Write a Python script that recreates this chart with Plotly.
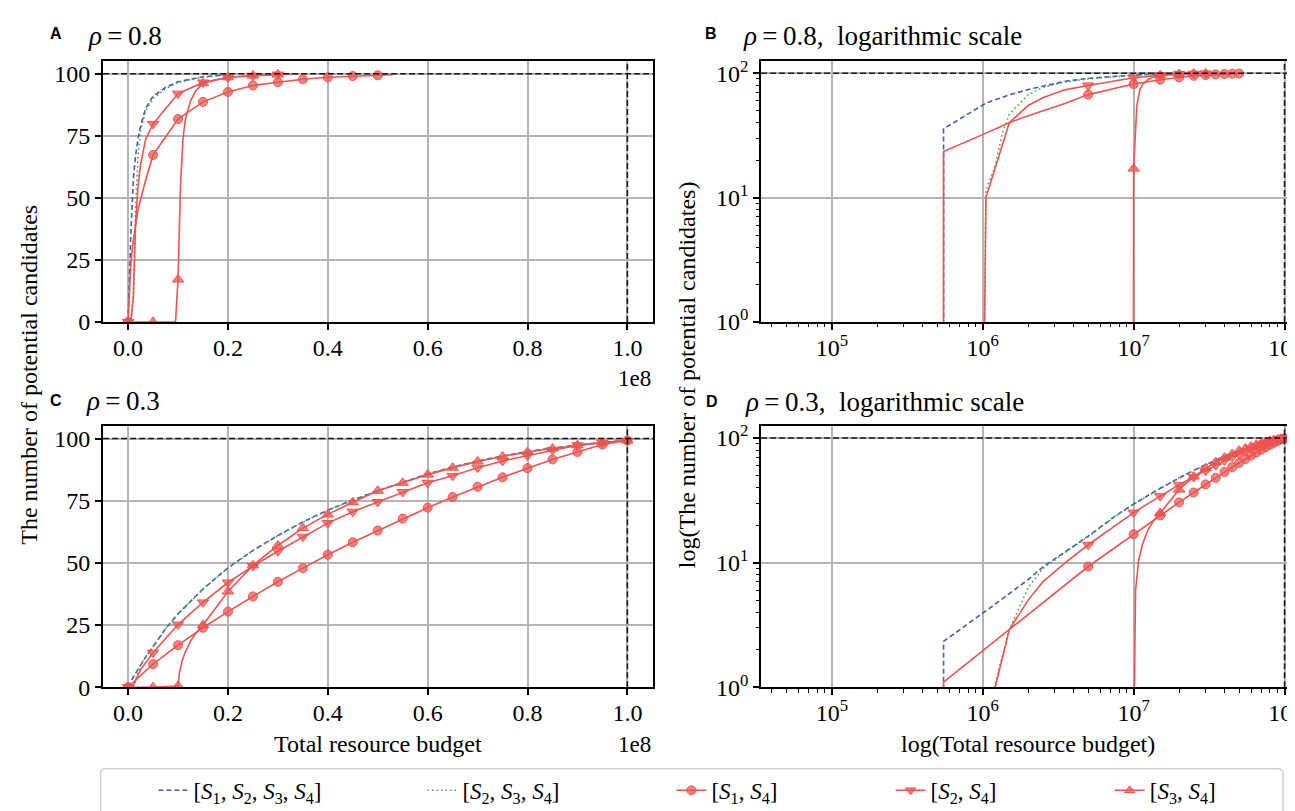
import numpy as np
import plotly.graph_objects as go

# ------------------------------------------------------------------ data
# budget values where the markers sit (every 5e6 up to 1e8)
BUDGET_GRID = [0, 5e6, 1e7, 1.5e7, 2e7, 2.5e7, 3e7, 3.5e7, 4e7, 4.5e7, 5e7,
               5.5e7, 6e7, 6.5e7, 7e7, 7.5e7, 8e7, 8.5e7, 9e7, 9.5e7, 1e8]

# ---- rho = 0.8
x08_all = [0, 5.5e5, 1.05e6, 1.5e6, 2e6, 2.5e6, 3.5e6, 5e6, 7.5e6, 1e7, 1.5e7, 2e7]
y08_all = [0, 35.7, 57.5, 67, 74, 79, 86, 91, 94.5, 96.8, 98.8, 99.6]

x08_s234 = [0, 5.5e5, 1.05e6, 1.2e6, 1.35e6, 1.5e6, 2e6, 2.5e6, 3.5e6, 5e6, 7.5e6, 1e7, 1.5e7, 2e7]
y08_s234 = [0, 0, 11.5, 17.5, 33, 47, 67, 77, 85, 90, 94, 96.5, 98.7, 99.6]

x08_s14 = [0, 5.5e5, 1.05e6, 1.5e6, 2e6, 3.5e6] + BUDGET_GRID[1:11] + [5.3e7]
y08_s14 = [0, 23.5, 33, 40, 45.5, 57, 67.3, 81.8, 88.7, 92.7, 95.3, 96.6, 97.8, 98.6, 99.1, 99.4, 99.6]

x08_s24 = [0, 5.5e5, 1.05e6, 1.5e6, 2e6, 2.5e6, 3.5e6] + BUDGET_GRID[1:7] + [3.3e7]
y08_s24 = [0, 0, 10, 40, 55, 63.5, 73.5, 79.8, 92, 96.5, 98.6, 99.2, 99.7, 99.8]

x08_s34 = [0, 5e6, 9.5e6, 1e7, 1.05e7, 1.1e7, 1.15e7, 1.25e7, 1.35e7, 1.5e7, 2e7, 2.5e7, 3e7]
y08_s34 = [0, 0, 0, 17.1, 55, 74, 82, 89, 93, 96.2, 98.6, 99.3, 99.7]

# ---- rho = 0.3
x03_all = [0, 5.5e5, 1.05e6, 1.5e6, 2e6, 2.5e6, 3.5e6, 5e6, 7.5e6] + BUDGET_GRID[2:]
y03_all = [0, 2.33, 4.1, 5.6, 7.3, 9.2, 12.1, 16.3, 23.5,
           29.5, 39.5, 48, 55, 61, 66.5, 71.2, 75.3, 79, 82.5, 85.8, 88.5, 91, 93, 94.8,
           96.2, 97.5, 98.5, 99.3]

x03_s234 = [0, 5.5e5, 1.05e6, 1.5e6, 2e6, 2.5e6, 3.5e6, 5e6, 7.5e6] + BUDGET_GRID[2:]
y03_s234 = [0, 0, 0.55, 2.9, 6.3, 8.9, 12.0, 16.1, 23.4,
            29.4, 39.4, 47.9, 54.9, 60.9, 66.4, 71.1, 75.2, 78.9, 82.4, 85.7, 88.4, 90.9, 92.9,
            94.7, 96.1, 97.4, 98.4, 99.2]

x03_s14 = [0, 5.5e5] + BUDGET_GRID[1:]
y03_s14 = [0, 1.1, 9.3, 16.9, 23.9, 30.4, 36.5, 42.4, 47.9, 53.3, 58.3, 63, 67.8, 72.2,
           76.5, 80.6, 84.4, 88.1, 91.6, 94.6, 97.6, 99.2]

x03_s24 = [0, 5.5e5, 1.05e6, 1.5e6, 2e6, 2.5e6, 3.5e6] + BUDGET_GRID[1:]
y03_s24 = [0, 0, 0.5, 2.9, 5.0, 7.0, 9.9, 13.9, 25.2, 34.1, 42.1, 48.7, 54.7, 60.5, 66,
           70.6, 74.5, 78.5, 82.2, 85, 88.3, 91, 93.2, 95.4, 97.3, 98.3, 99.1]

x03_s34 = [0, 5e6, 1e7, 1.03e7, 1.08e7, 1.15e7, 1.25e7, 1.35e7] + BUDGET_GRID[3:]
y03_s34 = [0, 0, 0.5, 6, 10.5, 14.3, 18.5, 21.5, 25, 38.5, 49, 57, 64, 69.5, 74.4, 79,
           82.2, 85.5, 88.3, 90.8, 92.8, 94.6, 96, 97.3, 98.4, 99.2]

SERIES_LABELS = [
    "[<i>S</i><sub>1</sub>, <i>S</i><sub>2</sub>, <i>S</i><sub>3</sub>, <i>S</i><sub>4</sub>]",
    "[<i>S</i><sub>2</sub>, <i>S</i><sub>3</sub>, <i>S</i><sub>4</sub>]",
    "[<i>S</i><sub>1</sub>, <i>S</i><sub>4</sub>]",
    "[<i>S</i><sub>2</sub>, <i>S</i><sub>4</sub>]",
    "[<i>S</i><sub>3</sub>, <i>S</i><sub>4</sub>]",
]
PANEL_TITLES = {
    "A": "<i>ρ</i>\u2009=\u20090.8",
    "B": "<i>ρ</i>\u2009=\u20090.8,  logarithmic scale",
    "C": "<i>ρ</i>\u2009=\u20090.3",
    "D": "<i>ρ</i>\u2009=\u20090.3,  logarithmic scale",
}
LIN_XTICKS = [0, 2e7, 4e7, 6e7, 8e7, 1e8]
LIN_XTEXT = ["0.0", "0.2", "0.4", "0.6", "0.8", "1.0"]
LIN_YTICKS = [0, 25, 50, 75, 100]
LOG_XTICKS = [1e5, 1e6, 1e7, 1e8]
LOG_YTICKS = [1, 10, 100]

# ------------------------------------------------------------------ style
W, H = 1295, 811
RED = "#ef5350"
RED_FILL = "rgba(239,83,80,0.72)"
BLUE = "#3e5fb3"
GREEN = "#4c9e4c"
SERIF = "Liberation Serif"
SANS = "Liberation Sans"
FS = 24
LOG_FLOOR = 1e-30

STYLES = [
    dict(color=BLUE, dash="5px,3px", symbol=None),
    dict(color=GREEN, dash="1.5px,3px", symbol=None),
    dict(color=RED, dash="solid", symbol="circle"),
    dict(color=RED, dash="solid", symbol="triangle-down"),
    dict(color=RED, dash="solid", symbol="triangle-up"),
]

DATA = {
    0.8: [(x08_all, y08_all), (x08_s234, y08_s234), (x08_s14, y08_s14),
          (x08_s24, y08_s24), (x08_s34, y08_s34)],
    0.3: [(x03_all, y03_all), (x03_s234, y03_s234), (x03_s14, y03_s14),
          (x03_s24, y03_s24), (x03_s34, y03_s34)],
}

# panel: axis suffix, x px range, y px range, scale, rho
PANELS = {
    "A": ("", (95.5, 647.5), (49.5, 316), "linear", 0.8),
    "B": ("2", (756, 1293), (49.5, 316), "log", 0.8),
    "C": ("3", (95.5, 647.5), (422.5, 689.5), "linear", 0.3),
    "D": ("4", (756, 1293), (422.5, 689.5), "log", 0.3),
}


def for_log(xs, ys):
    xs = np.array(xs, dtype=float)
    ys = np.array(ys, dtype=float)
    ys = np.where(ys > 0, ys, LOG_FLOOR)
    for i in range(len(xs) - 2, -1, -1):
        if xs[i] <= 0:
            xs[i] = xs[i + 1]
    return xs, ys


fig = go.Figure()

for key, (suf, (xl, xr), (yt, yb), scale, rho) in PANELS.items():
    xa, ya = "x" + suf, "y" + suf
    for (xs, ys), st in zip(DATA[rho], STYLES):
        xs_a = np.array(xs, dtype=float)
        ys_a = np.array(ys, dtype=float)
        if scale == "log":
            lx, ly = for_log(xs_a, ys_a)
        else:
            lx, ly = xs_a, ys_a
        fig.add_trace(go.Scatter(
            x=lx, y=ly, mode="lines", xaxis=xa, yaxis=ya, showlegend=False,
            line=dict(color=st["color"], dash=st["dash"], width=1.6), hoverinfo="skip"))
        if st["symbol"]:
            m = np.isclose(np.mod(xs_a, 5e6), 0)
            if scale == "log":
                m &= (xs_a > 0) & (ys_a > 0)
            fig.add_trace(go.Scatter(
                x=xs_a[m], y=ys_a[m], mode="markers", xaxis=xa, yaxis=ya, showlegend=False,
                marker=dict(symbol=st["symbol"], size=9 if st["symbol"] == "circle" else 10,
                            color=RED_FILL, line=dict(color=RED, width=1)),
                hoverinfo="skip"))

    # reference dashed lines (target count 100, full budget 1e8)
    fig.add_shape(type="line", xref=xa + " domain", yref=ya, x0=0, x1=1, y0=100, y1=100,
                  line=dict(color="#1a1a1a", width=1.6, dash="6px,3px"), layer="above")
    fig.add_shape(type="line", xref=xa, yref=ya + " domain", x0=1e8, x1=1e8, y0=0, y1=1,
                  line=dict(color="#1a1a1a", width=1.6, dash="6px,3px"), layer="above")

    axis_common = dict(showline=True, linecolor="black", linewidth=2, mirror=True,
                       ticks="outside", ticklen=6, tickwidth=1.5, tickcolor="black",
                       showgrid=True, gridcolor="#b4b4b8", gridwidth=1.5, zeroline=False,
                       ticklabeloverflow="allow",
                       tickfont=dict(family=SERIF, size=FS, color="black"))
    xdom = [xl / W, xr / W]
    ydom = [1 - yb / H, 1 - yt / H]
    if scale == "linear":
        xaxis = dict(axis_common, domain=xdom, anchor=ya, range=[-5e6, 1.0513e8],
                     tickvals=LIN_XTICKS, ticktext=LIN_XTEXT, ticklabelstandoff=-3)
        yaxis = dict(axis_common, domain=ydom, anchor=xa, range=[0, 105],
                     tickvals=LIN_YTICKS, ticktext=[str(v) for v in LIN_YTICKS])
    else:
        xminor = [k * 10.0 ** e for e in range(4, 8) for k in range(2, 10)
                  if k * 10.0 ** e >= 3.5e4]
        yminor = [k * 10.0 ** e for e in range(0, 2) for k in range(2, 10)]
        xaxis = dict(axis_common, domain=xdom, anchor=ya, type="log", range=[4.531, 8.076],
                     tickvals=LOG_XTICKS, ticklabelstandoff=-3,
                     ticktext=["10<sup>%d</sup>" % int(round(np.log10(v))) for v in LOG_XTICKS],
                     minor=dict(tickvals=xminor, ticks="outside", ticklen=3.5, tickwidth=1,
                                tickcolor="black", showgrid=False))
        yaxis = dict(axis_common, domain=ydom, anchor=xa, type="log", range=[0, 2.095],
                     tickvals=LOG_YTICKS,
                     ticktext=["10<sup>%d</sup>" % int(round(np.log10(v))) for v in LOG_YTICKS],
                     minor=dict(tickvals=yminor, ticks="outside", ticklen=3.5, tickwidth=1,
                                tickcolor="black", showgrid=False))
    fig.update_layout({"xaxis" + suf: xaxis, "yaxis" + suf: yaxis})

# ------------------------------------------------------------------ annotations


def ann(text, px, py, size=FS, family=SERIF, xanchor="left", angle=0, bold=False):
    fig.add_annotation(text=("<b>%s</b>" % text) if bold else text, x=px / W, y=1 - py / H,
                       xref="paper", yref="paper", showarrow=False, xanchor=xanchor,
                       yanchor="middle", textangle=angle,
                       font=dict(family=family, size=size, color="black"))


for key, lx, ly, tx, ty in [("A", 48, 21, 78, 24), ("B", 706, 21, 736, 24),
                            ("C", 48, 396, 76, 397), ("D", 707, 397, 738, 398)]:
    ann(key, lx, ly, size=16, family=SANS, xanchor="center", bold=True)
    ann(PANEL_TITLES[key], tx, ty, size=FS + 3)

ann("1e8", 648, 374, size=FS - 1, xanchor="right")
ann("1e8", 648, 748, size=FS - 1, xanchor="right")
ann("Total resource budget", 371, 748, xanchor="center")
ann("log(Total resource budget)", 1024, 748, xanchor="center")
ann("The number of potential candidates", 21, 370, xanchor="center", angle=-90)
ann("log(The number of potential candidates)", 681, 370, xanchor="center", angle=-90)

# ------------------------------------------------------------------ legend
legend_text_x = [190, 460, 710, 930, 1150]
for i, (label, st) in enumerate(zip(SERIES_LABELS, STYLES)):
    lname = "legend" if i == 0 else "legend%d" % (i + 1)
    mode = "lines+markers" if st["symbol"] else "lines"
    fig.add_trace(go.Scatter(
        x=[None], y=[None], mode=mode, name=label, legend=lname, showlegend=True,
        line=dict(color=st["color"], dash=st["dash"], width=1.6),
        marker=dict(symbol=st["symbol"] or "circle", size=9, color=RED_FILL,
                    line=dict(color=RED, width=1))))
    fig.update_layout({lname: dict(x=(legend_text_x[i] - 44) / W, y=1 - 795 / H,
                                   xanchor="left", yanchor="middle", orientation="h",
                                   bgcolor="rgba(0,0,0,0)", borderwidth=0, itemwidth=30,
                                   font=dict(family=SERIF, size=FS - 1, color="black"))})

# legend frame (rounded top corners; bottom runs off the canvas)
x0, x1, yt_, yb_ = 93 / W, 1280 / W, 1 - 773 / H, -0.05
rx, ry = 5 / W, 5 / H
fig.add_shape(type="path", xref="paper", yref="paper",
              path=f"M {x0},{yb_} L {x0},{yt_ - ry} Q {x0},{yt_} {x0 + rx},{yt_} "
                   f"L {x1 - rx},{yt_} Q {x1},{yt_} {x1},{yt_ - ry} L {x1},{yb_}",
              line=dict(color="#cfcfcf", width=1.5))

fig.update_layout(width=W, height=H, margin=dict(l=0, r=0, t=0, b=0),
                  paper_bgcolor="white", plot_bgcolor="white",
                  font=dict(family=SERIF, size=FS, color="black"))

fig.write_html("out.html")
